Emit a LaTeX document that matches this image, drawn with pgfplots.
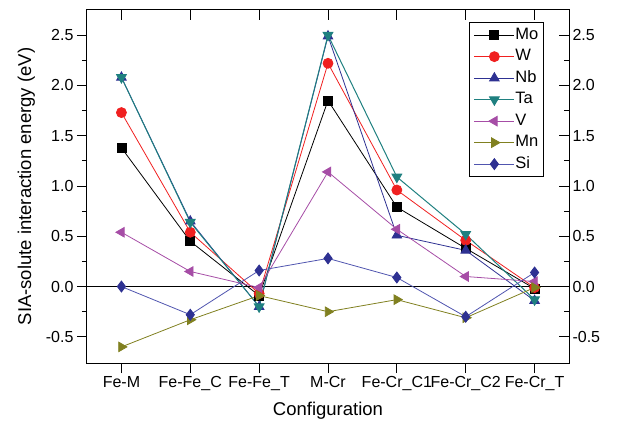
\documentclass[border=0pt]{standalone}
\usepackage{pgfplots}
\pgfplotsset{compat=1.18}
\usepackage{fontspec}
\setmainfont{Liberation Sans}
\usetikzlibrary{calc}
\definecolor{cW}{RGB}{240,32,32}
\definecolor{cNb}{RGB}{46,49,146}
\definecolor{cTa}{RGB}{31,128,128}
\definecolor{cV}{RGB}{166,77,166}
\definecolor{cMn}{RGB}{128,128,32}
\definecolor{cSi}{RGB}{46,49,146}
\definecolor{cSiL}{RGB}{80,85,175}
\begin{document}
\begin{tikzpicture}
\begin{axis}[
  scale only axis, width=482pt, height=353pt,
  xmin=-0.5, xmax=6.5, ymin=-0.76, ymax=2.75,
  xtick={0,1,2,3,4,5,6},
  xticklabels={Fe-M,Fe-Fe\_C,Fe-Fe\_T,M-Cr,Fe-Cr\_C1,Fe-Cr\_C2,Fe-Cr\_T},
  ytick={-0.5,0,0.5,1,1.5,2,2.5},
  minor y tick num=1,
  xtick pos=bottom, ytick pos=left,
  tick align=outside,
  major tick length=10pt, minor tick length=5pt,
  every tick/.style={black, line width=0.9pt},
  axis line style={line width=1pt},
  /pgf/number format/assume math mode=true,
  yticklabel style={/pgf/number format/.cd, fixed, fixed zerofill, precision=1},
  tick label style={font=\fontsize{16}{19}\selectfont},
  label style={font=\fontsize{18.5}{22}\selectfont},
  xlabel={Configuration},
  xlabel style={yshift=-4pt},
  ylabel={SIA-solute interaction energy (eV)},
  ylabel style={yshift=4pt},
  legend style={at={(0.7925,0.966)}, anchor=north west, draw=black, line width=0.8pt,
    font=\fontsize{16.5}{19}\selectfont, row sep=5pt, inner sep=4.5pt,
    nodes={inner sep=0.5pt, text height=12pt, text depth=3.5pt}},
  legend cell align=left,
  legend image code/.code={\draw[mark repeat=2,mark phase=2] plot coordinates {(0pt,0pt) (20pt,0pt) (40pt,0pt)};},
]
\addplot[black, line width=1pt, forget plot] coordinates {(-0.5,0) (6.5,0)};
\addplot[black, line width=0.8pt, mark=square*, mark size=4.5pt, mark options={solid, fill=black}]
  coordinates {(0,1.38) (1,0.45) (2,-0.09) (3,1.85) (4,0.79) (5,0.38) (6,-0.02)};
\addlegendentry{Mo}
\addplot[cW, line width=0.8pt, mark=*, mark size=5pt, mark options={solid, fill=cW}]
  coordinates {(0,1.73) (1,0.54) (2,-0.07) (3,2.22) (4,0.96) (5,0.46) (6,-0.01)};
\addlegendentry{W}
\addplot[cNb, line width=0.8pt, mark=triangle*, mark size=5.5pt, mark options={solid, fill=cNb}]
  coordinates {(0,2.08) (1,0.65) (2,-0.20) (3,2.49) (4,0.51) (5,0.36) (6,-0.14)};
\addlegendentry{Nb}
\addplot[cTa, line width=1pt, mark=triangle*, mark size=5.5pt, mark options={solid, fill=cTa, rotate=180}]
  coordinates {(0,2.08) (1,0.64) (2,-0.20) (3,2.50) (4,1.09) (5,0.52) (6,-0.13)};
\addlegendentry{Ta}
\addplot[cV, line width=0.8pt, mark=triangle*, mark size=5.5pt, mark options={solid, fill=cV, rotate=90}]
  coordinates {(0,0.54) (1,0.15) (2,-0.01) (3,1.14) (4,0.57) (5,0.10) (6,0.05)};
\addlegendentry{V}
\addplot[cMn, line width=0.8pt, mark=triangle*, mark size=5.5pt, mark options={solid, fill=cMn, rotate=-90}]
  coordinates {(0,-0.60) (1,-0.33) (2,-0.09) (3,-0.25) (4,-0.13) (5,-0.31) (6,-0.01)};
\addlegendentry{Mn}
\addplot[cSiL, line width=0.8pt, mark=diamond*, mark size=5.5pt, mark options={solid, draw=cSi, fill=cSi}]
  coordinates {(0,0.00) (1,-0.28) (2,0.16) (3,0.28) (4,0.09) (5,-0.30) (6,0.14)};
\addlegendentry{Si}
\end{axis}
\begin{axis}[
  scale only axis, width=482pt, height=353pt,
  xmin=-0.5, xmax=6.5, ymin=-0.76, ymax=2.75,
  xtick={0,1,2,3,4,5,6}, xticklabel=\empty,
  ytick={-0.5,0,0.5,1,1.5,2,2.5},
  minor y tick num=1,
  xtick pos=top, ytick pos=right, yticklabel pos=right,
  tick align=inside,
  major tick length=10pt, minor tick length=5pt,
  every tick/.style={black, line width=0.9pt},
  axis line style={line width=1pt},
  /pgf/number format/assume math mode=true,
  yticklabel style={/pgf/number format/.cd, fixed, fixed zerofill, precision=1},
  tick label style={font=\fontsize{16}{19}\selectfont},
]
\addplot[draw=none] coordinates {(0,0)};
\end{axis}
\pgfresetboundingbox
\path ($(current axis.south west)+(-87pt,-61pt)$) rectangle ($(current axis.north east)+(50pt,10pt)$);
\end{tikzpicture}
\end{document}
